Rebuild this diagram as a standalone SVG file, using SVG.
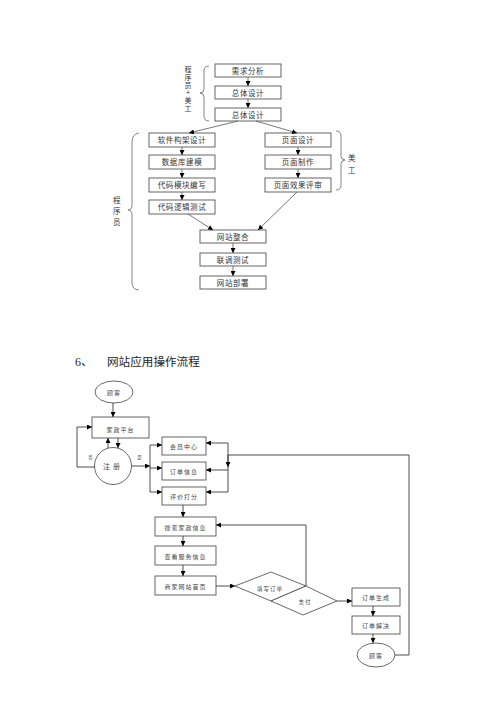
<svg xmlns="http://www.w3.org/2000/svg" width="500" height="707" viewBox="0 0 500 707">
<defs>
<marker id="ah" markerWidth="5" markerHeight="5" refX="5" refY="2.5" orient="auto" markerUnits="userSpaceOnUse">
<path d="M0,0 L5,2.5 L0,5 z" fill="#000"/>
</marker>
<style>
.b{fill:#fff;stroke:#555;stroke-width:0.9}
.t{font-family:"Liberation Sans","Noto Sans CJK SC",sans-serif;font-size:7.5px;fill:#333;text-anchor:middle;letter-spacing:0.6px}
.v{font-family:"Liberation Sans","Noto Sans CJK SC",sans-serif;font-size:7px;fill:#333;text-anchor:middle}
.s{font-family:"Liberation Serif","Noto Sans CJK SC",serif;font-size:6px;fill:#444;text-anchor:middle;letter-spacing:1px}
.l{fill:none;stroke:#555;stroke-width:0.8}
.k{fill:none;stroke:#222;stroke-width:0.8}
.br{fill:none;stroke:#666;stroke-width:0.8}
</style>
</defs>
<rect width="500" height="707" fill="#fff"/>

<!-- top section -->
<g id="lbl-top">
<text class="v" x="188" y="72">程</text>
<text class="v" x="188" y="80">序</text>
<text class="v" x="188" y="88">员</text>
<text class="v" x="188" y="95">+</text>
<text class="v" x="188" y="103">美</text>
<text class="v" x="188" y="111">工</text>
<path class="br" d="M209,66 Q204,66 204,71 L204,89 Q204,93 200,93 Q204,93 204,97 L204,116 Q204,121 209,121"/>
</g>
<g id="n-xqfx"><rect class="b" x="215" y="64" width="66" height="13"/><text class="t" x="248" y="73.5">需求分析</text></g>
<g id="n-ztsj1"><rect class="b" x="215" y="86" width="66" height="13"/><text class="t" x="248" y="95.5">总体设计</text></g>
<g id="n-ztsj2"><rect class="b" x="215" y="108" width="66" height="13"/><text class="t" x="248" y="117.5">总体设计</text></g>

<g id="n-rjgj"><rect class="b" x="149" y="133" width="66" height="14"/><text class="t" x="182" y="143">软件构架设计</text></g>
<g id="n-sjk"><rect class="b" x="149" y="155" width="66" height="14"/><text class="t" x="182" y="165">数据库建模</text></g>
<g id="n-dmmk"><rect class="b" x="149" y="178" width="66" height="14"/><text class="t" x="182" y="188">代码模块编写</text></g>
<g id="n-dmlj"><rect class="b" x="149" y="200" width="66" height="14"/><text class="t" x="182" y="210">代码逻辑测试</text></g>

<g id="n-ymsj"><rect class="b" x="265" y="133" width="66" height="14"/><text class="t" x="298" y="143">页面设计</text></g>
<g id="n-ymzz"><rect class="b" x="265" y="155" width="66" height="14"/><text class="t" x="298" y="165">页面制作</text></g>
<g id="n-ymxg"><rect class="b" x="265" y="178" width="66" height="14"/><text class="t" x="298" y="188">页面效果评审</text></g>

<g id="lbl-mg">
<path class="br" d="M336,131 Q341,131 341,136 L341,156 Q341,160 345,160 Q341,160 341,164 L341,185 Q341,190 336,190"/>
<text class="t" x="352" y="161">美</text>
<text class="t" x="352" y="173">工</text>
</g>
<g id="lbl-cxy">
<path class="br" d="M139,133 Q132,134 132,142 L132,205 Q132,210 128,210 Q132,210 132,215 L132,282 Q132,290 139,290"/>
<text class="t" x="117" y="203">程</text>
<text class="t" x="117" y="214">序</text>
<text class="t" x="117" y="225">员</text>
</g>

<g id="n-wzzh"><rect class="b" x="200" y="230" width="66" height="13"/><text class="t" x="233" y="239.5">网站整合</text></g>
<g id="n-ltcs"><rect class="b" x="200" y="253" width="66" height="13"/><text class="t" x="233" y="262.5">联调测试</text></g>
<g id="n-wzbs"><rect class="b" x="200" y="276" width="66" height="13"/><text class="t" x="233" y="285.5">网站部署</text></g>

<g id="edges-top">
<line class="l" x1="248" y1="77" x2="248" y2="86" marker-end="url(#ah)"/>
<line class="l" x1="248" y1="99" x2="248" y2="108" marker-end="url(#ah)"/>
<line class="l" x1="238" y1="121" x2="189" y2="133" marker-end="url(#ah)"/>
<line class="l" x1="256" y1="121" x2="297" y2="133" marker-end="url(#ah)"/>
<line class="l" x1="182" y1="147" x2="182" y2="155" marker-end="url(#ah)"/>
<line class="l" x1="182" y1="169" x2="182" y2="178" marker-end="url(#ah)"/>
<line class="l" x1="182" y1="192" x2="182" y2="200" marker-end="url(#ah)"/>
<line class="l" x1="298" y1="147" x2="298" y2="155" marker-end="url(#ah)"/>
<line class="l" x1="298" y1="169" x2="298" y2="178" marker-end="url(#ah)"/>
<line class="l" x1="188" y1="214" x2="213" y2="230" marker-end="url(#ah)"/>
<line class="l" x1="297" y1="192" x2="258" y2="230" marker-end="url(#ah)"/>
<line class="l" x1="233" y1="243" x2="233" y2="253" marker-end="url(#ah)"/>
<line class="l" x1="233" y1="266" x2="233" y2="276" marker-end="url(#ah)"/>
</g>

<!-- heading -->
<g id="heading">
<text x="75" y="366" style="font-family:'Liberation Serif','Noto Sans CJK SC',serif;font-size:12px;fill:#222">6、</text>
<text x="107" y="366" style="font-family:'Liberation Serif','Noto Sans CJK SC',serif;font-size:11.6px;fill:#222">网站应用操作流程</text>
</g>

<!-- bottom flowchart -->
<g id="n-gk1"><ellipse cx="114" cy="392" rx="19" ry="11" fill="#fff" stroke="#444" stroke-width="0.8"/><text class="s" x="114" y="394.5">顾客</text></g>
<g id="n-jzpt"><rect class="b" x="92" y="417" width="57" height="21"/><text class="s" x="120.5" y="432">家政平台</text></g>
<g id="n-zc"><circle cx="113" cy="466" r="18.5" fill="#fff" stroke="#444" stroke-width="0.8"/><text class="s" x="113" y="468.5" style="font-size:7px;letter-spacing:3px">注册</text></g>
<g id="n-hyzx"><rect class="b" x="162" y="437" width="44" height="18"/><text class="s" x="184" y="449">会员中心</text></g>
<g id="n-ddxx"><rect class="b" x="162" y="462" width="44" height="18"/><text class="s" x="184" y="474">订单信息</text></g>
<g id="n-pjdf"><rect class="b" x="162" y="487" width="44" height="18"/><text class="s" x="184" y="499">评价打分</text></g>
<g id="n-ssjz"><rect class="b" x="155" y="517" width="61" height="19"/><text class="s" x="185.5" y="530">搜索家政信息</text></g>
<g id="n-ckfw"><rect class="b" x="155" y="546" width="61" height="19"/><text class="s" x="185.5" y="559">查看服务信息</text></g>
<g id="n-sjwz"><rect class="b" x="155" y="576" width="61" height="19"/><text class="s" x="185.5" y="589">商家网站首页</text></g>
<g id="n-txdd"><path d="M235,586 L271,572 L306,586 L271,601 z" fill="#fff" stroke="#444" stroke-width="0.8"/><text class="s" x="270" y="591" style="font-size:5.5px">填写订单</text></g>
<g id="n-zf"><path d="M271,601 L306,586 L337,601 L303,615 z" fill="#fff" stroke="#444" stroke-width="0.8"/><text class="s" x="305" y="604" style="font-size:5.5px">支付</text></g>
<g id="n-ddsc"><rect class="b" x="352" y="588" width="48" height="18"/><text class="s" x="376" y="600">订单生成</text></g>
<g id="n-ddjj"><rect class="b" x="352" y="616" width="48" height="18"/><text class="s" x="376" y="628">订单解决</text></g>
<g id="n-gk2"><ellipse cx="376" cy="655" rx="19" ry="12" fill="#fff" stroke="#444" stroke-width="0.8"/><text class="s" x="376" y="658">顾客</text></g>

<g id="edges-bottom">
<line class="k" x1="113" y1="403" x2="113" y2="417" marker-end="url(#ah)"/>
<line class="k" x1="108" y1="448" x2="108" y2="438" marker-end="url(#ah)"/>
<line class="k" x1="118" y1="438" x2="118" y2="448" marker-end="url(#ah)"/>
<polyline class="k" points="95,467 77,467 77,427 92,427" marker-end="url(#ah)"/>
<text class="s" x="91" y="459" style="font-size:4.5px">否</text>
<text class="s" x="140" y="459" style="font-size:4.5px">是</text>
<line class="k" x1="131.5" y1="466" x2="150" y2="466" marker-end="url(#ah)"/>
<line class="k" x1="150" y1="445" x2="150" y2="492"/>
<line class="k" x1="150" y1="445" x2="162" y2="445" marker-end="url(#ah)"/>
<line class="k" x1="150" y1="468" x2="162" y2="468" marker-end="url(#ah)"/>
<line class="k" x1="150" y1="492" x2="162" y2="492" marker-end="url(#ah)"/>
<line class="k" x1="228" y1="443" x2="228" y2="492"/>
<line class="k" x1="228" y1="455" x2="228" y2="467" marker-end="url(#ah)"/>
<line class="k" x1="228" y1="443" x2="206" y2="443" marker-end="url(#ah)"/>
<line class="k" x1="228" y1="470" x2="206" y2="470" marker-end="url(#ah)"/>
<line class="k" x1="228" y1="492" x2="206" y2="492" marker-end="url(#ah)"/>
<polyline class="k" points="395,655 409,655 409,455 228,455"/>
<line class="k" x1="183" y1="505" x2="183" y2="517" marker-end="url(#ah)"/>
<line class="k" x1="183" y1="536" x2="183" y2="546" marker-end="url(#ah)"/>
<line class="k" x1="183" y1="565" x2="183" y2="576" marker-end="url(#ah)"/>
<line class="k" x1="216" y1="586" x2="235" y2="586" marker-end="url(#ah)"/>
<polyline class="k" points="306,586 306,525 216,525" marker-end="url(#ah)"/>
<line class="k" x1="337" y1="601" x2="352" y2="601" marker-end="url(#ah)"/>
<line class="k" x1="373" y1="606" x2="373" y2="616" marker-end="url(#ah)"/>
<line class="k" x1="373" y1="634" x2="373" y2="643" marker-end="url(#ah)"/>
</g>
</svg>
